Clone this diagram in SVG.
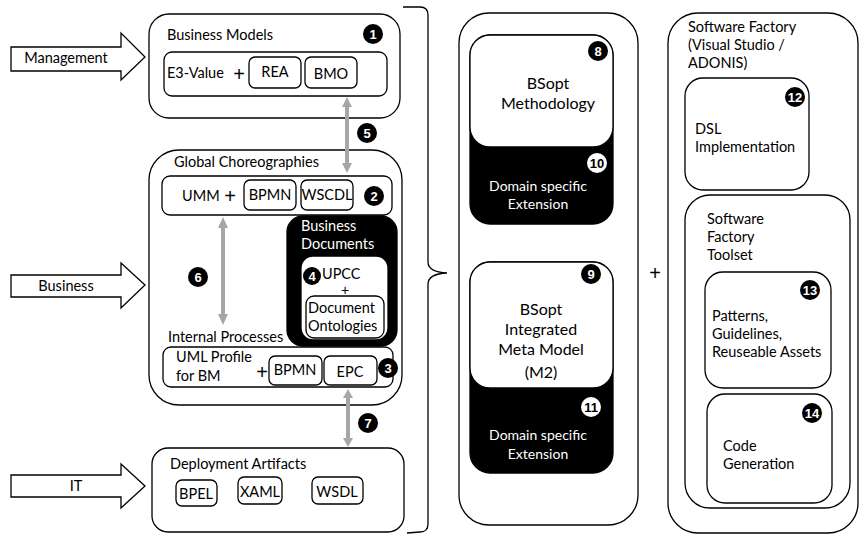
<svg xmlns="http://www.w3.org/2000/svg" width="860" height="535" viewBox="0 0 860 535">
<style>
.b{fill:#fff;stroke:#000;stroke-width:1.3}
.k{fill:#000;stroke:#000;stroke-width:1.3}
.t{font-family:Lato,"Open Sans",sans-serif;font-size:14.5px;fill:#000}
.tw{font-family:Lato,"Open Sans",sans-serif;font-size:14.5px;fill:#fff}
.big{font-family:Lato,"Open Sans",sans-serif;font-size:16px;fill:#000;text-anchor:middle}
.bigw{font-family:Lato,"Open Sans",sans-serif;font-size:14px;fill:#fff;text-anchor:middle}
.plus{font-family:"Liberation Sans",sans-serif;font-size:20px;fill:#000;text-anchor:middle}
.bd{fill:#000}
.bdw{fill:#fff}
.n{font-family:"Liberation Sans",Arial,sans-serif;font-weight:bold;font-size:13px;fill:#fff;text-anchor:middle}
.nk{font-family:"Liberation Sans",Arial,sans-serif;font-weight:bold;font-size:13px;fill:#000;text-anchor:middle}
.g{fill:#a6a6a6}
.c{text-anchor:middle}
</style>

<g id="business-models">
  <rect class="b" x="149" y="14" width="251" height="104" rx="20"/>
  <text class="t" x="167" y="40">Business Models</text>
  <rect class="b" x="164" y="52" width="223" height="44" rx="8"/>
  <text class="t" x="167" y="78">E3-Value</text>
  <text class="plus" x="239" y="81">+</text>
  <rect class="b" x="249" y="57" width="52" height="31" rx="6"/>
  <text class="t c" x="275" y="77">REA</text>
  <rect class="b" x="305" y="57" width="52" height="31" rx="6"/>
  <text class="t c" x="331" y="79">BMO</text>
  <circle class="bd" cx="373" cy="34" r="10"/>
  <text class="n" x="373" y="39">1</text>
</g>

<g id="badge-5">
  <circle class="bd" cx="367" cy="133" r="10"/>
  <text class="n" x="367" y="138">5</text>
</g>

<g id="global-choreographies">
  <rect class="b" x="149" y="150" width="253" height="255" rx="30"/>
  <text class="t" x="174" y="167">Global Choreographies</text>
  <rect class="b" x="162" y="176" width="230" height="39" rx="8"/>
  <text class="t" x="182" y="201">UMM</text>
  <text class="plus" x="230" y="203">+</text>
  <rect class="b" x="244" y="180" width="52" height="30" rx="6"/>
  <text class="t c" x="270" y="200">BPMN</text>
  <rect class="b" x="301" y="180" width="52" height="30" rx="6"/>
  <text class="t c" x="327" y="200">WSCDL</text>
  <circle class="bd" cx="374" cy="196" r="10"/>
  <text class="n" x="374" y="201">2</text>
</g>

<g id="badge-6">
  <circle class="bd" cx="198" cy="277" r="10"/>
  <text class="n" x="198" y="282">6</text>
</g>

<g id="business-documents">
  <rect class="k" x="287" y="216" width="110" height="130" rx="16"/>
  <text class="tw" x="301" y="231">Business</text>
  <text class="tw" x="301" y="249">Documents</text>
  <rect class="b" x="301" y="256" width="87" height="84" rx="12"/>
  <circle class="bd" cx="312" cy="276" r="9"/>
  <text class="n" x="312" y="281">4</text>
  <text class="t" x="322" y="279">UPCC</text>
  <text class="plus" x="345" y="295" style="font-size:14px">+</text>
  <rect class="b" x="306" y="296" width="78" height="42" rx="8"/>
  <text class="t" x="308" y="313">Document</text>
  <text class="t" x="308" y="331">Ontologies</text>
</g>

<g id="internal-processes">
  <text class="t" x="168" y="342">Internal Processes</text>
  <rect class="b" x="163" y="347" width="230" height="40" rx="8"/>
  <text class="t" x="176" y="362">UML Profile</text>
  <text class="t" x="176" y="381">for BM</text>
  <text class="plus" x="262" y="379">+</text>
  <rect class="b" x="269" y="356" width="53" height="29" rx="6"/>
  <text class="t c" x="295" y="375">BPMN</text>
  <rect class="b" x="324" y="356" width="53" height="29" rx="6"/>
  <text class="t c" x="350" y="377">EPC</text>
  <circle class="bd" cx="388" cy="368" r="10"/>
  <text class="n" x="388" y="373">3</text>
</g>

<g id="badge-7">
  <circle class="bd" cx="368" cy="423" r="10"/>
  <text class="n" x="368" y="428">7</text>
</g>

<g id="deployment-artifacts">
  <rect class="b" x="152" y="448" width="252" height="84" rx="16"/>
  <text class="t" x="170" y="469">Deployment Artifacts</text>
  <rect class="b" x="176" y="480" width="41" height="26" rx="6"/>
  <text class="t c" x="196" y="499">BPEL</text>
  <rect class="b" x="238" y="477" width="44" height="27" rx="6"/>
  <text class="t c" x="260" y="497">XAML</text>
  <rect class="b" x="312" y="477" width="51" height="27" rx="6"/>
  <text class="t c" x="337" y="497">WSDL</text>
</g>

<g id="bsopt">
  <rect class="b" x="459" y="13" width="179" height="512" rx="30"/>
</g>

<g id="bsopt-methodology">
  <rect class="k" x="470" y="35" width="143" height="189" rx="20"/>
  <rect class="b" x="470" y="35" width="143" height="112" rx="20"/>
  <circle class="bd" cx="598" cy="51" r="10"/>
  <text class="n" x="598" y="56">8</text>
  <text class="big" x="548" y="89">BSopt</text>
  <text class="big" x="548" y="109">Methodology</text>
  <circle class="bdw" cx="597" cy="163" r="10"/>
  <text class="nk" x="597" y="168">10</text>
  <text class="bigw" x="538" y="191">Domain specific</text>
  <text class="bigw" x="538" y="209">Extension</text>
</g>

<g id="bsopt-meta-model">
  <rect class="k" x="470" y="262" width="143" height="211" rx="20"/>
  <rect class="b" x="470" y="262" width="143" height="126" rx="20"/>
  <circle class="bd" cx="591" cy="274" r="10"/>
  <text class="n" x="591" y="279">9</text>
  <text class="big" x="541" y="315">BSopt</text>
  <text class="big" x="541" y="335">Integrated</text>
  <text class="big" x="541" y="355">Meta Model</text>
  <text class="big" x="541" y="378">(M2)</text>
  <circle class="bdw" cx="591" cy="407" r="10"/>
  <text class="nk" x="591" y="412">11</text>
  <text class="bigw" x="538" y="440">Domain specific</text>
  <text class="bigw" x="538" y="459">Extension</text>
</g>

<g id="software-factory">
  <rect class="b" x="668" y="13" width="190" height="520" rx="30"/>
  <text class="t" x="688" y="32">Software Factory</text>
  <text class="t" x="688" y="50">(Visual Studio /</text>
  <text class="t" x="688" y="68">ADONIS)</text>
</g>

<g id="dsl-implementation">
  <rect class="b" x="685" y="78" width="124" height="112" rx="18"/>
  <circle class="bd" cx="795" cy="97" r="10"/>
  <text class="n" x="795" y="102">12</text>
  <text class="t" x="695" y="134">DSL</text>
  <text class="t" x="695" y="152">Implementation</text>
</g>

<g id="software-factory-toolset">
  <rect class="b" x="685" y="195" width="165" height="313" rx="25"/>
  <text class="t" x="707" y="224">Software</text>
  <text class="t" x="707" y="242">Factory</text>
  <text class="t" x="707" y="260">Toolset</text>
</g>

<g id="patterns">
  <rect class="b" x="705" y="272" width="126" height="116" rx="18"/>
  <circle class="bd" cx="810" cy="290" r="10"/>
  <text class="n" x="810" y="295">13</text>
  <text class="t" x="712" y="321">Patterns,</text>
  <text class="t" x="712" y="339">Guidelines,</text>
  <text class="t" x="712" y="357">Reuseable Assets</text>
</g>

<g id="code-generation">
  <rect class="b" x="707" y="394" width="125" height="109" rx="18"/>
  <circle class="bd" cx="812" cy="413" r="10"/>
  <text class="n" x="812" y="418">14</text>
  <text class="t" x="723" y="451">Code</text>
  <text class="t" x="723" y="469">Generation</text>
</g>

<g id="connectors">
  <g id="arrow-management">
    <polygon class="b" points="11,47 121,47 121,33 145,57 121,80 121,71 11,71"/>
    <text class="t c" x="66" y="63">Management</text>
  </g>
  <g id="arrow-business">
    <polygon class="b" points="11,275 121,275 121,263 145,285 121,308 121,297 11,297"/>
    <text class="t c" x="66" y="291">Business</text>
  </g>
  <g id="arrow-it">
    <polygon class="b" points="11,475 121,475 121,464 145,486 121,508 121,497 11,497"/>
    <text class="t c" x="76" y="491">IT</text>
  </g>
  <g id="arrow-5">
    <polygon class="g" points="347,97 352,107 349,107 349,163 352,163 347,173 342,163 345,163 345,107 342,107"/>
  </g>
  <g id="arrow-6">
    <polygon class="g" points="223,217 228,228 225,228 225,314 228,314 223,325 218,314 221,314 221,228 218,228"/>
  </g>
  <g id="arrow-7">
    <polygon class="g" points="348,389 353,398 350,398 350,438 353,438 348,447 343,438 346,438 346,398 343,398"/>
  </g>
  <path id="brace" d="M403,7 L420,7 Q428,7 428,15 L428,262 Q428,272 447,273 Q428,274 428,284 L428,524 Q428,532 420,532 L407,533" fill="none" stroke="#000" stroke-width="1.3"/>
  <text class="plus" x="655" y="280">+</text>
</g>
</svg>
